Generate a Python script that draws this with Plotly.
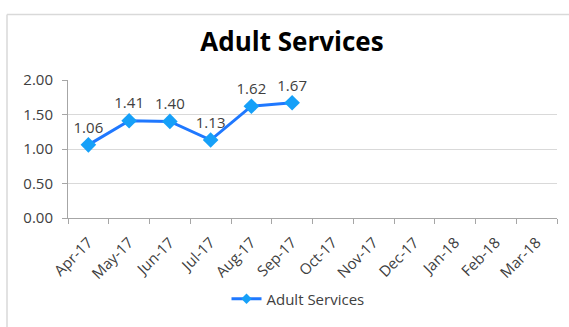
import plotly.graph_objects as go

months = ["Apr-17", "May-17", "Jun-17", "Jul-17", "Aug-17", "Sep-17",
          "Oct-17", "Nov-17", "Dec-17", "Jan-18", "Feb-18", "Mar-18"]
values = [1.06, 1.41, 1.40, 1.13, 1.62, 1.67]
series_name = "Adult Services"
y_ticks = [0.0, 0.5, 1.0, 1.5, 2.0]

FONT = "Open Sans"
W, H = 569, 327
L, R, T, B = 68, 12, 80, 104
pw, ph = W - L - R, H - T - B
LINE_C = "#1f78ff"
MARK_C = "#16a0f8"

fig = go.Figure()
fig.add_trace(go.Scatter(
    x=months[:len(values)], y=values, name=series_name,
    mode="lines+markers+text", showlegend=False,
    line=dict(color=LINE_C, width=3),
    marker=dict(symbol="diamond", size=12, color=MARK_C),
    text=[f"{v:.2f}" for v in values],
    textposition="top center",
    textfont=dict(family=FONT, size=15, color="#404040"),
))
# legend entry (smaller marker, like the reference key)
fig.add_trace(go.Scatter(
    x=[None], y=[None], name=series_name, mode="lines+markers",
    line=dict(color=LINE_C, width=3),
    marker=dict(symbol="diamond", size=8, color=MARK_C),
))

def px_x(p):
    return (p - L) / pw

def px_y(p):
    return (H - B - p) / ph

# chart-area border (only left and top edges visible in the crop)
fig.add_shape(type="line", xref="paper", yref="paper",
              x0=px_x(7), x1=px_x(7), y0=px_y(12), y1=px_y(340),
              line=dict(color="#d9d9d9", width=1.5), layer="below")
fig.add_shape(type="line", xref="paper", yref="paper",
              x0=px_x(7), x1=px_x(580), y0=px_y(12), y1=px_y(12),
              line=dict(color="#d9d9d9", width=1.5), layer="below")

fig.update_layout(
    width=W, height=H,
    margin=dict(l=L, r=R, t=T, b=B),
    paper_bgcolor="white", plot_bgcolor="white",
    title=dict(text="<b>Adult Services</b>", x=(292 / W), xanchor="center",
               y=1 - 42 / H, yanchor="middle",
               font=dict(family=FONT, size=26, color="#000000")),
    showlegend=True,
    legend=dict(orientation="h", x=px_x(298), xanchor="center",
                y=px_y(307), yanchor="middle",
                font=dict(family=FONT, size=15, color="#404040"),
                itemwidth=30),
    xaxis=dict(categoryorder="array", categoryarray=months,
               type="category", range=[-0.5, 11.5],
               tickmode="array", tickvals=months, ticktext=months,
               tickangle=-45, tickson="boundaries", ticks="outside",
               ticklen=5, tickcolor="#a6a6a6", ticklabelstandoff=9,
               showline=True, linecolor="#a6a6a6", linewidth=1,
               showgrid=False, zeroline=False,
               tickfont=dict(family=FONT, size=15, color="#404040")),
    yaxis=dict(range=[0, 2.0], tickvals=y_ticks,
               ticktext=[f"{v:.2f}" for v in y_ticks],
               ticks="outside", ticklen=5, tickcolor="#a6a6a6",
               ticklabelstandoff=6,
               showline=True, linecolor="#a6a6a6", linewidth=1,
               showgrid=True, gridcolor="#d9d9d9", gridwidth=1,
               zeroline=False,
               tickfont=dict(family=FONT, size=15, color="#404040")),
)

fig.write_html("out.html")
